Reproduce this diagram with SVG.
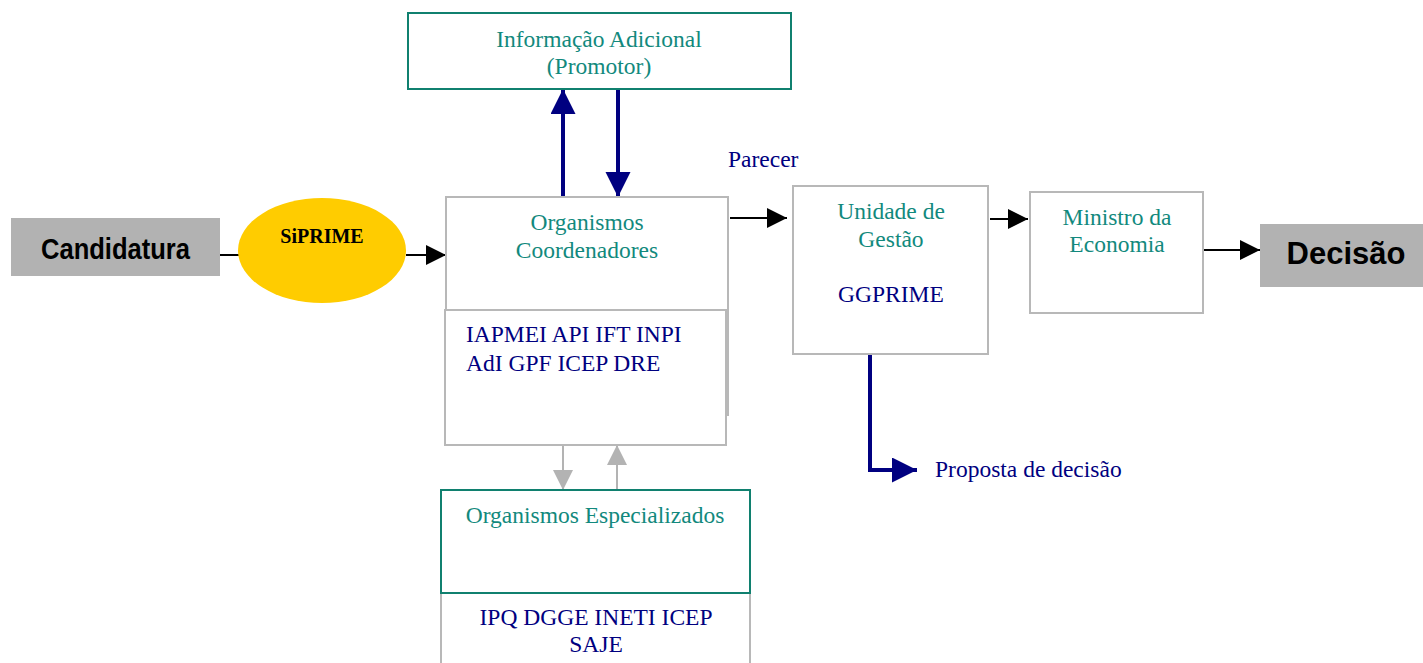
<svg xmlns="http://www.w3.org/2000/svg" width="1423" height="663" viewBox="0 0 1423 663">
<style>
.box{fill:#fff;stroke:#b8b8b8;stroke-width:2}
.tbox{fill:#fff;stroke:#10806f;stroke-width:2}
.teal{font-family:"Liberation Serif",serif;font-size:23.5px;fill:#12897d;text-anchor:middle}
.navy{font-family:"Liberation Serif",serif;font-size:23.5px;fill:#000080}
.blk{stroke:#000;stroke-width:2;fill:none}
.nv{stroke:#000080;stroke-width:4;fill:none}
.gr{stroke:#b3b3b3;stroke-width:2;fill:none}
</style>
<defs>
<marker id="ab" markerWidth="20" markerHeight="20" refX="20" refY="10" orient="auto" markerUnits="userSpaceOnUse"><path d="M0,0 L20,10 L0,20 Z" fill="#000"/></marker>
<marker id="an" markerWidth="26" markerHeight="26" refX="25" refY="12.5" orient="auto" markerUnits="userSpaceOnUse"><path d="M0,0 L25,12.5 L0,25 Z" fill="#000080"/></marker>
<marker id="ag" markerWidth="20" markerHeight="20" refX="20" refY="10" orient="auto" markerUnits="userSpaceOnUse"><path d="M0,0 L20,10 L0,20 Z" fill="#b3b3b3"/></marker>
</defs>
<rect width="1423" height="663" fill="#fff"/>
<g id="connectors">
<line class="blk" x1="220" y1="255" x2="240" y2="255"/>
<line class="blk" x1="406" y1="255" x2="446" y2="255" marker-end="url(#ab)"/>
<line class="nv" x1="563" y1="197" x2="563" y2="89" marker-end="url(#an)"/>
<line class="nv" x1="618" y1="89" x2="618" y2="197" marker-end="url(#an)"/>
<line class="blk" x1="730" y1="218" x2="787" y2="218" marker-end="url(#ab)"/>
<line class="blk" x1="990" y1="219" x2="1028" y2="219" marker-end="url(#ab)"/>
<line class="blk" x1="1203" y1="250" x2="1260" y2="250" marker-end="url(#ab)"/>
<polyline class="nv" points="870,354 870,470 917,470" marker-end="url(#an)"/>
<line class="gr" x1="563" y1="445" x2="563" y2="490" marker-end="url(#ag)"/>
<line class="gr" x1="617" y1="490" x2="617" y2="445" marker-end="url(#ag)"/>
</g>
<g id="candidatura">
<rect x="11" y="218" width="209" height="58" fill="#b2b2b2"/>
<text x="41" y="259" font-family="'Liberation Sans',sans-serif" font-weight="bold" font-size="29" textLength="149" lengthAdjust="spacingAndGlyphs" fill="#000">Candidatura</text>
</g>
<g id="siprime">
<ellipse cx="322" cy="250.5" rx="84" ry="52.5" fill="#ffcc00"/>
<text x="322" y="243" font-family="'Liberation Serif',serif" font-weight="bold" font-size="20" text-anchor="middle" fill="#000">SiPRIME</text>
</g>
<g id="info">
<rect class="tbox" x="408" y="13" width="383" height="76"/>
<text class="teal" x="599" y="47">Informação Adicional</text>
<text class="teal" x="599" y="74">(Promotor)</text>
</g>
<text x="728" y="167" font-family="'Liberation Serif',serif" font-size="23.5" fill="#000080">Parecer</text>
<g id="coordenadores">
<rect class="box" x="446" y="197" width="282" height="218"/>
<rect class="box" x="445" y="310" width="281" height="135"/>
<text class="teal" x="587" y="230">Organismos</text>
<text class="teal" x="587" y="258">Coordenadores</text>
<text class="navy" x="466" y="342">IAPMEI API IFT INPI</text>
<text class="navy" x="466" y="371">AdI GPF ICEP DRE</text>
</g>
<g id="especializados">
<rect class="box" x="441" y="593" width="309" height="80"/>
<rect class="tbox" x="441" y="490" width="309" height="103"/>
<text class="teal" x="595" y="523">Organismos Especializados</text>
<text class="navy" x="596" y="625" text-anchor="middle">IPQ DGGE INETI ICEP</text>
<text class="navy" x="596" y="652" text-anchor="middle">SAJE</text>
</g>
<g id="unidade">
<rect class="box" x="793" y="186" width="195" height="168"/>
<text class="teal" x="891" y="219">Unidade de</text>
<text class="teal" x="891" y="247">Gestão</text>
<text class="navy" x="891" y="302" text-anchor="middle">GGPRIME</text>
</g>
<g id="ministro">
<rect class="box" x="1030" y="192" width="173" height="121"/>
<text class="teal" x="1117" y="225">Ministro da</text>
<text class="teal" x="1117" y="252">Economia</text>
</g>
<g id="decisao">
<rect x="1260" y="224" width="163" height="63" fill="#b2b2b2"/>
<text x="1346" y="264" font-family="'Liberation Sans',sans-serif" font-weight="bold" font-size="31" text-anchor="middle" fill="#000">Decisão</text>
</g>
<text x="935" y="477" font-family="'Liberation Serif',serif" font-size="23.5" fill="#000080">Proposta de decisão</text>
</svg>
